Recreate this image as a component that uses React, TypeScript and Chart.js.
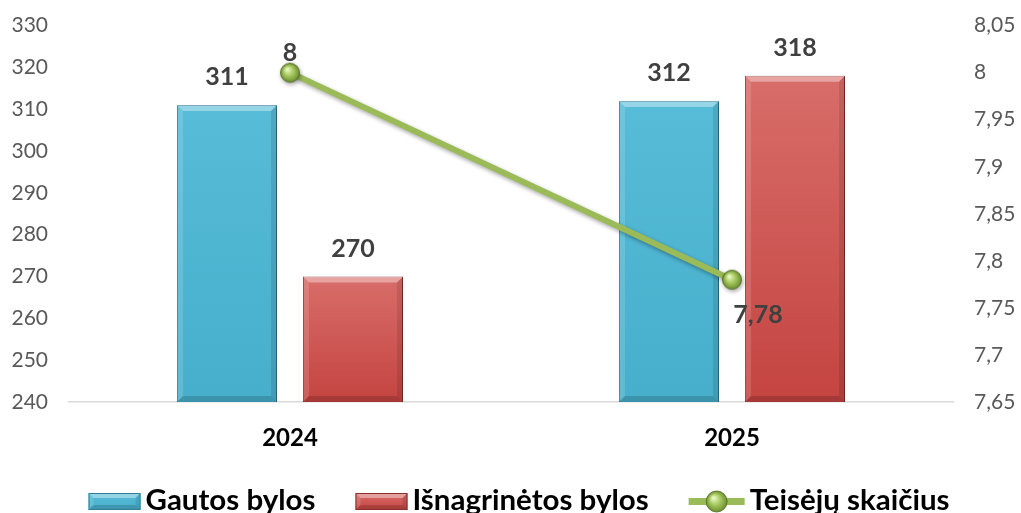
import { useEffect, useRef } from "react";
import { Chart, registerables } from "chart.js";

Chart.register(...registerables);

const categories = ["2024", "2025"];
const gautosBylos = [311, 312];
const isnagrinetosBylos = [270, 318];
const teisejuSkaicius = [8, 7.78];
const seriesNames = ["Gautos bylos", "Išnagrinėtos bylos", "Teisėjų skaičius"];
const leftMin = 240;
const leftMax = 330;
const leftStep = 10;
const rightMin = 7.65;
const rightMax = 8.05;
const rightStep = 0.05;

const FONT = "Lato, 'Open Sans', sans-serif";
const fmt = (v: number) => String(+Number(v).toFixed(2)).replace(".", ",");

const BLUE = { top: "#56BCD8", bottom: "#47AECB", border: "#2F7F98" };
const RED = { top: "#D86D69", bottom: "#C44441", border: "#8E2E2B" };
const GREEN = "#9BBB59";

function bevel(ctx: CanvasRenderingContext2D, l: number, t: number, r: number, b: number, s: number) {
  ctx.save();
  const poly = (pts: number[][], fill: string) => {
    ctx.fillStyle = fill;
    ctx.beginPath();
    ctx.moveTo(pts[0][0], pts[0][1]);
    for (let i = 1; i < pts.length; i++) ctx.lineTo(pts[i][0], pts[i][1]);
    ctx.closePath();
    ctx.fill();
  };
  poly([[l, t], [r, t], [r - s, t + s], [l + s, t + s]], "rgba(255,255,255,0.38)");
  poly([[l, t], [l + s, t + s], [l + s, b - s], [l, b]], "rgba(255,255,255,0.14)");
  poly([[r, t], [r, b], [r - s, b - s], [r - s, t + s]], "rgba(0,0,0,0.10)");
  poly([[l, b], [r, b], [r - s, b - s], [l + s, b - s]], "rgba(0,0,0,0.15)");
  ctx.restore();
}

function drawBox(ctx: CanvasRenderingContext2D, l: number, t: number, w: number, h: number, c: { top: string; bottom: string; border: string }, s: number) {
  const g = ctx.createLinearGradient(0, t, 0, t + h);
  g.addColorStop(0, c.top);
  g.addColorStop(1, c.bottom);
  ctx.fillStyle = g;
  ctx.fillRect(l, t, w, h);
  bevel(ctx, l, t, l + w, t + h, s);
  ctx.strokeStyle = c.border;
  ctx.lineWidth = 1;
  ctx.strokeRect(l + 0.5, t + 0.5, w - 1, h - 1);
}

function drawBall(ctx: CanvasRenderingContext2D, cx: number, cy: number, r: number) {
  const g = ctx.createRadialGradient(cx - r * 0.3, cy - r * 0.35, r * 0.1, cx, cy, r);
  g.addColorStop(0, "#E4F5BE");
  g.addColorStop(0.45, "#A9CB62");
  g.addColorStop(1, "#6C8E2E");
  ctx.beginPath();
  ctx.arc(cx, cy, r, 0, Math.PI * 2);
  ctx.fillStyle = g;
  ctx.fill();
  ctx.strokeStyle = "rgba(80,105,35,0.8)";
  ctx.lineWidth = 1;
  ctx.stroke();
}

function makePointImage(): HTMLCanvasElement {
  const c = document.createElement("canvas");
  c.width = 22;
  c.height = 22;
  const ctx = c.getContext("2d")!;
  drawBall(ctx, 11, 11, 9.5);
  return c;
}

function barColor(c: any, col: { top: string; bottom: string }) {
  const chart = c.chart;
  const ys = chart.scales && chart.scales.y;
  if (!ys || c.type !== "data") return col.bottom;
  const top = ys.getPixelForValue(c.raw);
  const bottom = ys.getPixelForValue(ys.min);
  if (!isFinite(top) || !isFinite(bottom) || top === bottom) return col.bottom;
  const g = chart.ctx.createLinearGradient(0, top, 0, bottom);
  g.addColorStop(0, col.top);
  g.addColorStop(1, col.bottom);
  return g;
}

const labelsPlugin = {
  id: "valueLabels",
  afterDatasetsDraw(chart: any) {
    const ctx = chart.ctx as CanvasRenderingContext2D;
    ctx.save();
    ctx.fillStyle = "#404040";
    ctx.font = `bold 25px ${FONT}`;
    ctx.textAlign = "center";
    ctx.textBaseline = "middle";
    chart.data.datasets.forEach((ds: any, di: number) => {
      const meta = chart.getDatasetMeta(di);
      meta.data.forEach((el: any, i: number) => {
        const v = ds.data[i];
        if (ds.type === "line") {
          const off = i === 0 ? [0, -20] : [26, 35];
          ctx.fillText(fmt(v), el.x + off[0], el.y + off[1]);
        } else {
          ctx.fillText(fmt(v), el.x, el.y - 28);
        }
      });
    });
    ctx.restore();
  },
};

const bevelPlugin = {
  id: "barBevel",
  beforeDatasetDraw(chart: any, args: any) {
    const ds = chart.data.datasets[args.index];
    const ctx = chart.ctx;
    ctx.save();
    if (ds.type === "line") {
      ctx.shadowColor = "rgba(0,0,0,0.35)";
      ctx.shadowBlur = 4;
      ctx.shadowOffsetX = 1;
      ctx.shadowOffsetY = 2;
    } else {
      const a = chart.chartArea;
      ctx.beginPath();
      ctx.rect(a.left, 0, a.right - a.left, a.bottom);
      ctx.clip();
      ctx.shadowColor = "rgba(0,0,0,0.25)";
      ctx.shadowBlur = 5;
      ctx.shadowOffsetX = 2;
      ctx.shadowOffsetY = 2;
    }
  },
  afterDatasetDraw(chart: any, args: any) {
    const ctx = chart.ctx;
    ctx.restore();
    const ds = chart.data.datasets[args.index];
    if (ds.type === "line") return;
    const a = chart.chartArea;
    const meta = chart.getDatasetMeta(args.index);
    meta.data.forEach((el: any) => {
      const p = el.getProps(["x", "y", "base", "width"], true);
      const l = p.x - p.width / 2;
      const r = p.x + p.width / 2;
      const b = Math.min(p.base, a.bottom);
      bevel(ctx, l, p.y, r, b, 6);
    });
  },
};

const legendPlugin = {
  id: "customLegend",
  afterDraw(chart: any) {
    const ctx = chart.ctx as CanvasRenderingContext2D;
    ctx.save();
    ctx.font = `bold 100px ${FONT}`;
    const w100 = ctx.measureText(seriesNames[0]).width;
    const size = (100 * 170) / w100;
    ctx.font = `bold ${size}px ${FONT}`;
    const swW = [52, 52, 56];
    const gapText = 5;
    const gapItem = 40;
    const tw = seriesNames.map((n) => ctx.measureText(n).width);
    let total = 0;
    seriesNames.forEach((_, i) => {
      total += swW[i] + gapText + tw[i] + (i < seriesNames.length - 1 ? gapItem : 0);
    });
    let x = 519 - total / 2;
    const cy = 501.5;
    ctx.textBaseline = "alphabetic";
    ctx.textAlign = "left";
    seriesNames.forEach((n, i) => {
      if (i === 0) drawBox(ctx, x, cy - 8.5, 52, 17, BLUE, 5);
      else if (i === 1) drawBox(ctx, x, cy - 8.5, 52, 17, RED, 5);
      else {
        ctx.strokeStyle = GREEN;
        ctx.lineWidth = 7;
        ctx.beginPath();
        ctx.moveTo(x, cy);
        ctx.lineTo(x + swW[i], cy);
        ctx.stroke();
        drawBall(ctx, x + swW[i] / 2, cy, 10.5);
      }
      x += swW[i] + gapText;
      ctx.fillStyle = "#000000";
      ctx.fillText(n, x, 510);
      x += tw[i] + gapItem;
    });
    ctx.restore();
  },
};

export default function App() {
  const ref = useRef<HTMLCanvasElement | null>(null);
  useEffect(() => {
    document.body.style.margin = "0";
    if (!ref.current) return;
    const pointImg = makePointImage();
    const chart = new Chart(ref.current, {
      type: "bar",
      data: {
        labels: categories,
        datasets: [
          {
            type: "line",
            label: seriesNames[2],
            data: teisejuSkaicius,
            yAxisID: "y1",
            borderColor: GREEN,
            borderWidth: 6,
            pointStyle: pointImg as any,
            pointRadius: 10,
            order: 0,
          } as any,
          {
            type: "bar",
            label: seriesNames[0],
            data: gautosBylos,
            yAxisID: "y",
            backgroundColor: (c: any) => barColor(c, BLUE),
            borderColor: BLUE.border,
            borderWidth: 1,
            barPercentage: 0.794,
            categoryPercentage: 0.57,
            order: 1,
          },
          {
            type: "bar",
            label: seriesNames[1],
            data: isnagrinetosBylos,
            yAxisID: "y",
            backgroundColor: (c: any) => barColor(c, RED),
            borderColor: RED.border,
            borderWidth: 1,
            barPercentage: 0.794,
            categoryPercentage: 0.57,
            order: 1,
          },
        ],
      },
      options: {
        animation: false,
        responsive: true,
        maintainAspectRatio: false,
        layout: { padding: { top: 17, left: 0, right: 0, bottom: 0 } },
        plugins: {
          legend: { display: false },
          tooltip: { enabled: false },
        },
        scales: {
          x: {
            grid: { display: false },
            border: { display: true, color: "#D9D9D9", width: 1.5 },
            ticks: { color: "#000000", font: { family: FONT, size: 24, weight: "bold" }, padding: 14 },
            afterFit: (s: any) => {
              s.height = 111;
            },
          },
          y: {
            position: "left",
            min: leftMin,
            max: leftMax,
            grid: { display: false },
            border: { display: false },
            ticks: { stepSize: leftStep, color: "#595959", font: { family: FONT, size: 21 }, padding: 13 },
            afterFit: (s: any) => {
              s.width = 69;
            },
          },
          y1: {
            position: "right",
            min: rightMin,
            max: rightMax,
            grid: { display: false },
            border: { display: false },
            ticks: {
              stepSize: rightStep,
              color: "#595959",
              font: { family: FONT, size: 21 },
              padding: 13,
              callback: (v: any) => fmt(Number(v)),
            },
            afterFit: (s: any) => {
              s.width = 68;
            },
          },
        },
      },
      plugins: [bevelPlugin, labelsPlugin, legendPlugin],
    });
    return () => chart.destroy();
  }, []);
  return (
    <div style={{ position: "relative", width: "1021px", height: "513px" }}>
      <canvas ref={ref} />
    </div>
  );
}
